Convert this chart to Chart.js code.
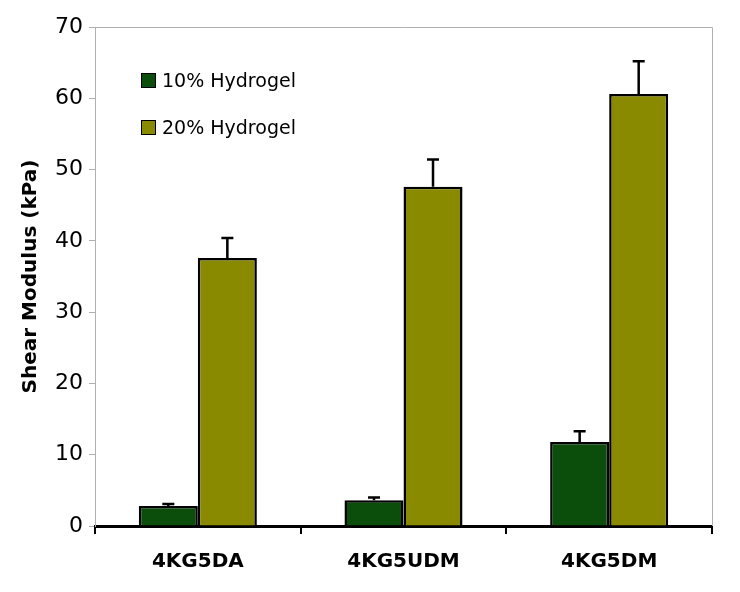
<!DOCTYPE html>
<html>
<head>
<meta charset="utf-8">
<script src="https://cdn.jsdelivr.net/npm/chart.js@4"></script>
<style>
  body { margin: 0; background: #ffffff; }
  #wrap { position: relative; width: 740px; height: 592px; }
  .leg { position: absolute; left: 141px; font: 19px "DejaVu Sans", sans-serif; color: #000; line-height: 20px; }
  .leg span { display: inline-block; width: 13px; height: 13px; border: 1px solid #000; margin-right: 6px; vertical-align: -1px; }
</style>
</head>
<body>
<div id="wrap">
  <canvas id="shearChart" width="740" height="592"></canvas>
  <div class="leg" style="top:70px;"><span style="background:#0b4d0b"></span>10% Hydrogel</div>
  <div class="leg" style="top:117px;"><span style="background:#8a8a00"></span>20% Hydrogel</div>
</div>
<script>
const categories = ["4KG5DA", "4KG5UDM", "4KG5DM"];
const gel10 = [2.8, 3.6, 11.8];
const gel10Err = [0.3, 0.4, 1.5];
const gel20 = [37.6, 47.6, 60.6];
const gel20Err = [2.8, 3.8, 4.6];

const errorBars = {
  id: "errorBars",
  afterDatasetsDraw(chart) {
    const ctx = chart.ctx;
    const yScale = chart.scales.y;
    ctx.save();
    ctx.strokeStyle = "#000";
    ctx.lineWidth = 2.5;
    chart.data.datasets.forEach((ds, i) => {
      const meta = chart.getDatasetMeta(i);
      meta.data.forEach((bar, j) => {
        const top = yScale.getPixelForValue(ds.data[j] + ds.errors[j]);
        const base = yScale.getPixelForValue(ds.data[j]);
        ctx.beginPath();
        ctx.moveTo(bar.x, base);
        ctx.lineTo(bar.x, top);
        ctx.moveTo(bar.x - 6, top);
        ctx.lineTo(bar.x + 6, top);
        ctx.stroke();
      });
    });
    ctx.restore();
  }
};

const plotFrame = {
  id: "plotFrame",
  beforeDatasetsDraw(chart) {
    const a = chart.chartArea;
    const ctx = chart.ctx;
    ctx.save();
    ctx.strokeStyle = "#b0b0b0";
    ctx.lineWidth = 1;
    ctx.beginPath();
    ctx.moveTo(a.left, a.top + 0.5);
    ctx.lineTo(a.right + 0.5, a.top + 0.5);
    ctx.lineTo(a.right + 0.5, a.bottom);
    ctx.stroke();
    ctx.restore();
  }
};

new Chart(document.getElementById("shearChart"), {
  type: "bar",
  data: {
    labels: categories,
    datasets: [
      {
        label: "10% Hydrogel",
        data: gel10,
        errors: gel10Err,
        backgroundColor: "#0b4d0b",
        borderColor: "#000",
        borderWidth: 2.5,
        categoryPercentage: 0.574,
        barPercentage: 1.0
      },
      {
        label: "20% Hydrogel",
        data: gel20,
        errors: gel20Err,
        backgroundColor: "#8a8a00",
        borderColor: "#000",
        borderWidth: 2.5,
        categoryPercentage: 0.574,
        barPercentage: 1.0
      }
    ]
  },
  options: {
    responsive: false,
    animation: false,
    layout: { padding: { top: 27, right: 28, left: 0, bottom: 0 } },
    plugins: {
      legend: { display: false },
      tooltip: { enabled: false }
    },
    scales: {
      x: {
        afterFit: (s) => { s.height = 66; },
        border: { color: "#000", width: 3 },
        grid: {
          offset: true,
          drawOnChartArea: false,
          drawTicks: true,
          tickLength: 8,
          color: "#000",
          lineWidth: 2
        },
        ticks: {
          color: "#000",
          padding: 16,
          font: { family: "DejaVu Sans", size: 20, weight: "bold" }
        }
      },
      y: {
        min: 0,
        max: 70,
        afterFit: (s) => { s.width = 95; },
        border: { color: "#b0b0b0", width: 1 },
        grid: {
          drawOnChartArea: false,
          drawTicks: true,
          tickLength: 6,
          color: "#b0b0b0"
        },
        ticks: {
          stepSize: 10,
          color: "#000",
          padding: 6,
          font: { family: "DejaVu Sans", size: 22 }
        },
        title: {
          display: true,
          text: "Shear Modulus (kPa)",
          color: "#000",
          padding: { top: 19, bottom: 4 },
          font: { family: "DejaVu Sans", size: 20, weight: "bold" }
        }
      }
    }
  },
  plugins: [plotFrame, errorBars]
});
</script>
</body>
</html>
